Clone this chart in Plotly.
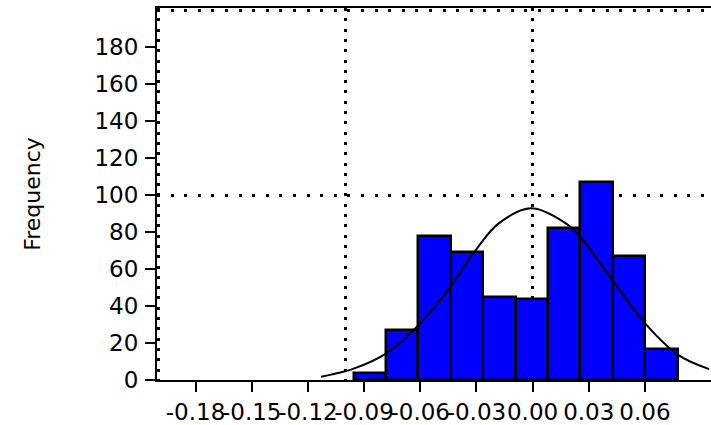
import plotly.graph_objects as go

# Histogram data (bin centres, common bin width, counts)
bin_centers = [-0.0869, -0.0696, -0.0523, -0.0350, -0.0177, -0.0004, 0.0169, 0.0342, 0.0515, 0.0688]
bin_width = 0.0173
frequencies = [4, 27, 78, 69, 45, 44, 82, 107, 67, 17]

# Fitted normal curve
curve_x = [-0.1130, -0.1076, -0.0959, -0.0788, -0.0611, -0.0435, -0.0312, -0.0184,
           -0.0008, 0.0168, 0.0248, 0.0430, 0.0601, 0.0777, 0.0943]
curve_y = [1.8, 2.9, 6.0, 14.0, 29.5, 51.0, 69.0, 84.4,
           92.8, 85.3, 78.1, 53.5, 30.6, 13.6, 5.9]

# Axis ticks
x_tick_vals = [-0.18, -0.15, -0.12, -0.09, -0.06, -0.03, 0.00, 0.03, 0.06]
x_tick_text = ["-0.18", "-0.15", "-0.12", "-0.09", "-0.06", "-0.03", "0.00", "0.03", "0.06"]
y_tick_vals = [0, 20, 40, 60, 80, 100, 120, 140, 160, 180]
y_tick_text = ["0", "20", "40", "60", "80", "100", "120", "140", "160", "180"]

# Dotted reference grid lines
grid_x = [-0.2, -0.1, 0.0]
grid_y = [100, 200]

x_range = [-0.2006, 0.0953]
y_range = [0, 201.1]

tick_font = dict(family="DejaVu Sans", size=23, color="black")

fig = go.Figure()

fig.add_trace(go.Bar(
    x=bin_centers, y=frequencies, width=[bin_width] * len(bin_centers),
    marker=dict(color="#0000FF", line=dict(color="black", width=2.5)),
    xaxis="x", yaxis="y", showlegend=False,
))

fig.add_trace(go.Scatter(
    x=curve_x, y=curve_y, mode="lines",
    line=dict(color="black", width=2, shape="spline", smoothing=1.0),
    xaxis="x2", yaxis="y2", showlegend=False,
))

fig.update_layout(
    width=711, height=425,
    margin=dict(l=157, r=0, t=8, b=43),
    paper_bgcolor="white", plot_bgcolor="white",
    bargap=0,
    xaxis=dict(
        range=x_range, tickmode="array", tickvals=x_tick_vals, ticktext=x_tick_text,
        tickangle=0,
        ticks="outside", ticklen=10, tickwidth=2, tickcolor="black",
        showline=True, linecolor="black", linewidth=2, mirror=True,
        showgrid=False, zeroline=False, tickfont=tick_font,
    ),
    yaxis=dict(
        range=y_range, tickmode="array", tickvals=y_tick_vals, ticktext=y_tick_text,
        ticks="outside", ticklen=10, tickwidth=2, tickcolor="black",
        showline=True, linecolor="black", linewidth=2, ticklabelstandoff=2,
        showgrid=False, zeroline=False, tickfont=tick_font,
        title=dict(text="Frequency", font=dict(family="DejaVu Sans", size=22, color="black"),
                   standoff=48),
    ),
    xaxis2=dict(
        range=x_range, overlaying="x", anchor="y2", side="bottom",
        tickmode="array", tickvals=grid_x, showticklabels=False, ticks="",
        showgrid=True, gridcolor="black", gridwidth=3, griddash="3px,7.3px",
        showline=False, zeroline=False,
    ),
    yaxis2=dict(
        range=y_range, overlaying="y", anchor="x2", side="left",
        tickmode="array", tickvals=grid_y, showticklabels=False, ticks="",
        showgrid=True, gridcolor="black", gridwidth=3, griddash="3px,10.6px",
        showline=False, zeroline=False,
    ),
)

fig.write_html("out.html")
